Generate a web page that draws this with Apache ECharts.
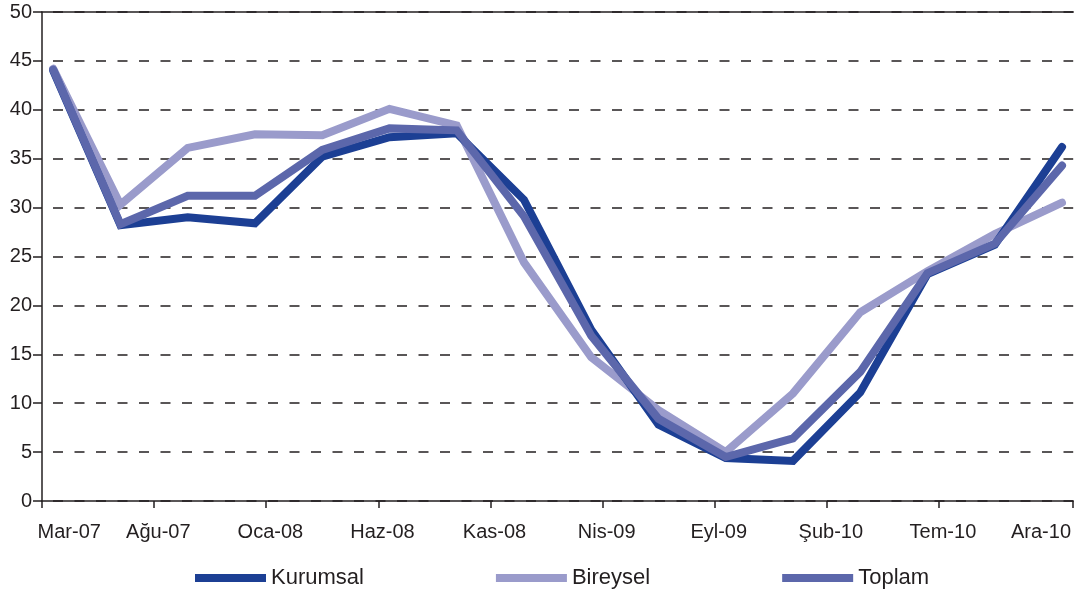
<!DOCTYPE html>
<html>
<head>
<meta charset="utf-8">
<script src="https://cdn.jsdelivr.net/npm/echarts@6/dist/echarts.min.js"></script>
<style>
  html, body { margin: 0; padding: 0; background: #fff; }
  #chart { width: 1074px; height: 592px; }
</style>
</head>
<body>
<div id="chart"></div>
<script>
// monthly category axis, Mar-07 .. Ara-10
const months = [
  'Mar-07','Nis-07','May-07','Haz-07','Tem-07','Ağu-07','Eyl-07','Eki-07','Kas-07','Ara-07',
  'Oca-08','Şub-08','Mar-08','Nis-08','May-08','Haz-08','Tem-08','Ağu-08','Eyl-08','Eki-08','Kas-08','Ara-08',
  'Oca-09','Şub-09','Mar-09','Nis-09','May-09','Haz-09','Tem-09','Ağu-09','Eyl-09','Eki-09','Kas-09','Ara-09',
  'Oca-10','Şub-10','Mar-10','Nis-10','May-10','Haz-10','Tem-10','Ağu-10','Eyl-10','Eki-10','Kas-10','Ara-10'
];
// quarterly observations
const pointMonths = [
  'Mar-07','Haz-07','Eyl-07','Ara-07','Mar-08','Haz-08','Eyl-08','Ara-08',
  'Mar-09','Haz-09','Eyl-09','Ara-09','Mar-10','Haz-10','Eyl-10','Ara-10'
];
const kurumsal = [44.0, 28.2, 29.0, 28.4, 35.2, 37.2, 37.6, 30.8, 17.5, 7.8, 4.4, 4.1, 11.1, 23.2, 26.2, 36.2];
const bireysel = [44.2, 30.3, 36.1, 37.5, 37.4, 40.1, 38.4, 24.4, 14.7, 9.3, 5.0, 11.0, 19.3, 23.5, 27.3, 30.5];
const toplam   = [44.1, 28.3, 31.2, 31.2, 35.9, 38.1, 37.9, 29.1, 16.9, 8.4, 4.5, 6.4, 13.2, 23.3, 26.3, 34.3];

const FONT = "'Liberation Sans', Arial, sans-serif";
const INK = '#231f20';
const colors = { Kurumsal: '#1c3f94', Bireysel: '#9a9bcb', Toplam: '#5c67ab' };

const pairs = (vals) => pointMonths.map((m, i) => [m, vals[i]]);

const lineSeries = (name, vals) => ({
  name: name,
  type: 'line',
  data: pairs(vals),
  symbol: 'none',
  color: colors[name],
  lineStyle: { width: 8, color: colors[name], cap: 'round', join: 'miter' },
  itemStyle: { color: colors[name] }
});

const chart = echarts.init(document.getElementById('chart'));
const option = {
  animation: false,
  grid: { left: 42, right: 0, top: 12, bottom: 91 },
  legend: {
    data: ['Kurumsal', 'Bireysel', 'Toplam'],
    left: 190,
    top: 562,
    icon: 'rect',
    itemWidth: 71,
    itemHeight: 8,
    itemGap: 132,
    textStyle: { fontFamily: FONT, fontSize: 22, color: INK }
  },
  xAxis: [
    {
      type: 'category',
      data: months,
      boundaryGap: true,
      axisLine: { lineStyle: { color: INK, width: 1.5 } },
      axisTick: {
        show: true,
        length: 7,
        interval: (i) => i % 5 === 0 && i < 45,
        lineStyle: { color: INK, width: 1.5 }
      },
      axisLabel: {
        interval: (i) => i % 5 === 0,
        margin: 21,
        formatter: (v, i) => i === 0 ? '{l|' + v + '}' : (i === 45 ? '{r|' + v + '}' : '{c|' + v + '}'),
        rich: {
          l: { fontFamily: FONT, fontSize: 20, color: INK, padding: [0, 0, 0, 32] },
          c: { fontFamily: FONT, fontSize: 20, color: INK, padding: [0, 14, 0, 0] },
          r: { fontFamily: FONT, fontSize: 20, color: INK, padding: [0, 42, 0, 0] }
        }
      },
      splitLine: { show: false }
    },
    {
      // top frame line
      type: 'category',
      data: months,
      position: 'top',
      axisLine: { lineStyle: { color: INK, width: 1.5 } },
      axisTick: { show: false },
      axisLabel: { show: false },
      splitLine: { show: false }
    }
  ],
  yAxis: {
    type: 'value',
    min: 0,
    max: 50,
    interval: 5,
    axisLine: { show: true, lineStyle: { color: INK, width: 1.5 } },
    axisTick: { show: true, length: 9, lineStyle: { color: INK, width: 1.5 } },
    axisLabel: { margin: 10, fontFamily: FONT, fontSize: 20, color: INK },
    splitLine: {
      show: true,
      lineStyle: { color: INK, width: 1.5, type: [10, 11.5], dashOffset: 10.5 }
    }
  },
  series: [
    lineSeries('Bireysel', bireysel),
    lineSeries('Kurumsal', kurumsal),
    lineSeries('Toplam', toplam)
  ]
};
chart.setOption(option);
</script>
</body>
</html>
